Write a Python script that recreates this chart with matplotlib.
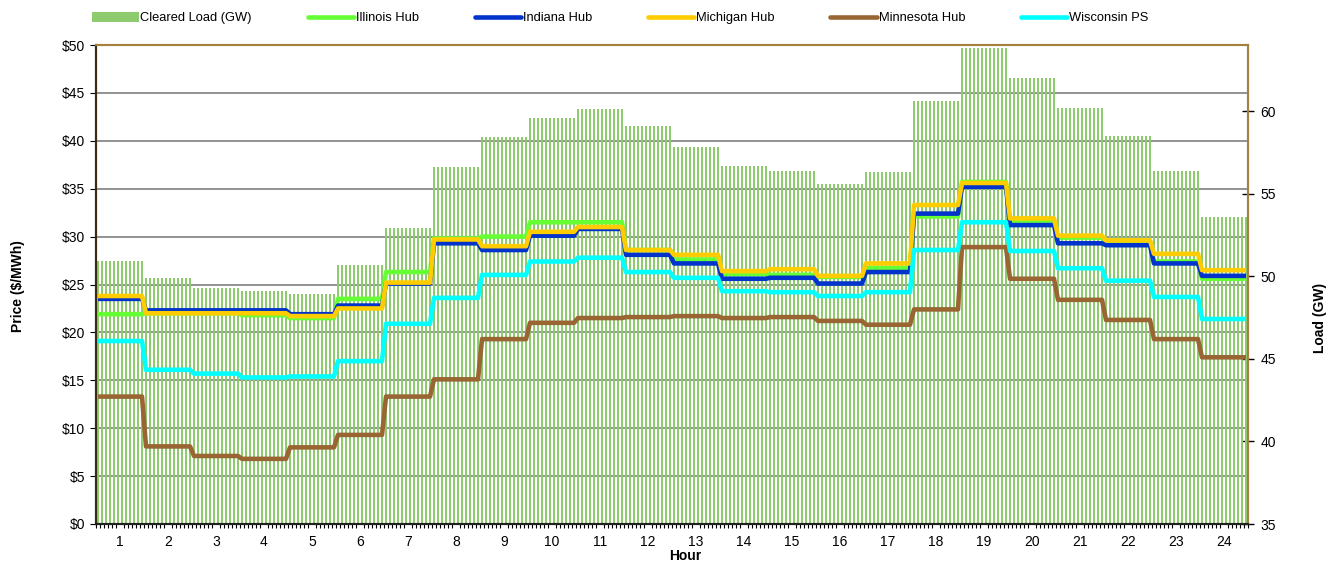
import numpy as np
import matplotlib.pyplot as plt
from matplotlib.patches import Patch
from matplotlib.lines import Line2D

plt.rcParams['font.family'] = ['Liberation Sans', 'DejaVu Sans']

# hourly values, each hour shown as twelve 5-minute intervals
hours = list(range(1, 25))
load_gw = [50.9, 49.9, 49.3, 49.1, 48.9, 50.7, 52.9, 56.6, 58.4, 59.6, 60.1, 59.1,
           57.8, 56.7, 56.4, 55.6, 56.3, 60.6, 63.8, 62.0, 60.2, 58.5, 56.4, 53.6]
illinois = [21.9, 22.0, 22.0, 21.8, 21.5, 23.5, 26.3, 29.8, 30.0, 31.5, 31.5, 28.6,
            27.6, 26.1, 26.0, 25.8, 26.7, 32.1, 35.7, 31.5, 29.9, 29.4, 27.4, 25.6]
indiana = [23.5, 22.3, 22.3, 22.3, 21.9, 22.8, 25.1, 29.3, 28.6, 30.1, 30.8, 28.1,
           27.2, 25.6, 25.7, 25.1, 26.3, 32.4, 35.2, 31.2, 29.3, 29.1, 27.2, 25.9]
michigan = [23.8, 22.0, 22.0, 22.0, 21.7, 22.5, 25.2, 29.7, 29.0, 30.5, 31.0, 28.6,
            28.1, 26.4, 26.6, 25.9, 27.2, 33.3, 35.6, 31.9, 30.1, 29.6, 28.2, 26.5]
minnesota = [13.3, 8.1, 7.1, 6.8, 8.0, 9.3, 13.3, 15.1, 19.3, 21.0, 21.5, 21.6,
             21.7, 21.5, 21.6, 21.2, 20.8, 22.4, 28.9, 25.6, 23.4, 21.3, 19.3, 17.4]
wisconsin = [19.1, 16.1, 15.7, 15.3, 15.4, 17.0, 20.9, 23.6, 26.0, 27.4, 27.8, 26.3,
             25.7, 24.3, 24.2, 23.8, 24.2, 28.6, 31.5, 28.5, 26.7, 25.4, 23.7, 21.4]

series = [('Illinois Hub', illinois, '#66FF33'),
          ('Indiana Hub', indiana, '#0033CC'),
          ('Michigan Hub', michigan, '#FFCC00'),
          ('Minnesota Hub', minnesota, '#996633'),
          ('Wisconsin PS', wisconsin, '#00FFFF')]

steps = 12
x = np.arange(len(hours) * steps)
bar_color = '#8DCB6E'
frame_color = '#A5813F'

fig = plt.figure(figsize=(13.39, 5.63), dpi=100)
# 1152 px wide plot area -> exactly 4 px per 5-minute slot
ax = fig.add_axes([96 / 1339, 39 / 563, 1152 / 1339, 479 / 563])
ax2 = ax.twinx()
ax.set_zorder(ax2.get_zorder() + 1)
ax.patch.set_visible(False)

# load bars on the right axis, gridlines (price levels) behind them
ax2.bar(x, np.repeat(load_gw, steps), width=0.5, color=bar_color,
        linewidth=0, antialiased=False, zorder=2)
for p in range(5, 50, 5):
    ax2.plot([0, 1], [p, p], transform=ax.get_yaxis_transform(),
             color='#7F7F7F', lw=1.2, zorder=1)
ax2.set_ylim(35, 64)
ax2.set_yticks(range(35, 61, 5))
ax2.tick_params(axis='y', direction='inout', length=8, width=1, labelsize=10, pad=5)

# price lines on the left axis
for name, vals, col in series:
    ax.plot(x, np.repeat(vals, steps), color=col, lw=3.3, solid_capstyle='butt')

ax.set_xlim(-0.5, len(x) - 0.5)
ax.set_ylim(0, 50)
ax.set_yticks(range(0, 51, 5))
ax.set_yticklabels([f'${v}' for v in range(0, 51, 5)])
ax.tick_params(axis='y', direction='out', length=4, labelsize=10, pad=4)
ax.set_xticks([i * steps + (steps - 1) / 2 for i in range(len(hours))])
ax.set_xticklabels([str(h) for h in hours])
ax.set_xticks(np.arange(-0.5, len(x), 1), minor=True)
ax.tick_params(axis='x', which='major', length=0, labelsize=10, pad=8)
ax.tick_params(axis='x', which='minor', direction='out', length=3, width=0.8)
ax2.tick_params(axis='x', which='both', length=0)

for a in (ax, ax2):
    a.spines['top'].set_color(frame_color)
    a.spines['right'].set_color(frame_color)
    a.spines['left'].set_color('#3A2A12')
    a.spines['bottom'].set_color('#222222')
    for s in a.spines.values():
        s.set_linewidth(1.5)

fig.text(18 / 1339, 1 - 286 / 563, 'Price ($/MWh)', rotation=90, ha='center',
         va='center', fontsize=10, fontweight='bold')
fig.text(1320 / 1339, 1 - 318 / 563, 'Load (GW)', rotation=90, ha='center',
         va='center', fontsize=10, fontweight='bold')
fig.text(685 / 1339, 1 - 556 / 563, 'Hour', ha='center', va='center',
         fontsize=10, fontweight='bold')

handles = [Patch(facecolor=bar_color, edgecolor='none')]
handles += [Line2D([], [], color=c, lw=3.3, solid_capstyle='round') for _, _, c in series]
labels = ['Cleared Load (GW)'] + [n for n, _, _ in series]
fig.legend(handles, labels, loc='upper left', bbox_to_anchor=(83 / 1339, 1 - 3 / 563),
           ncol=6, frameon=False, fontsize=9.3, handlelength=3.6, handleheight=0.8,
           handletextpad=0.15, columnspacing=4.3, borderaxespad=0.3)

fig.savefig('out.png', dpi=100)
